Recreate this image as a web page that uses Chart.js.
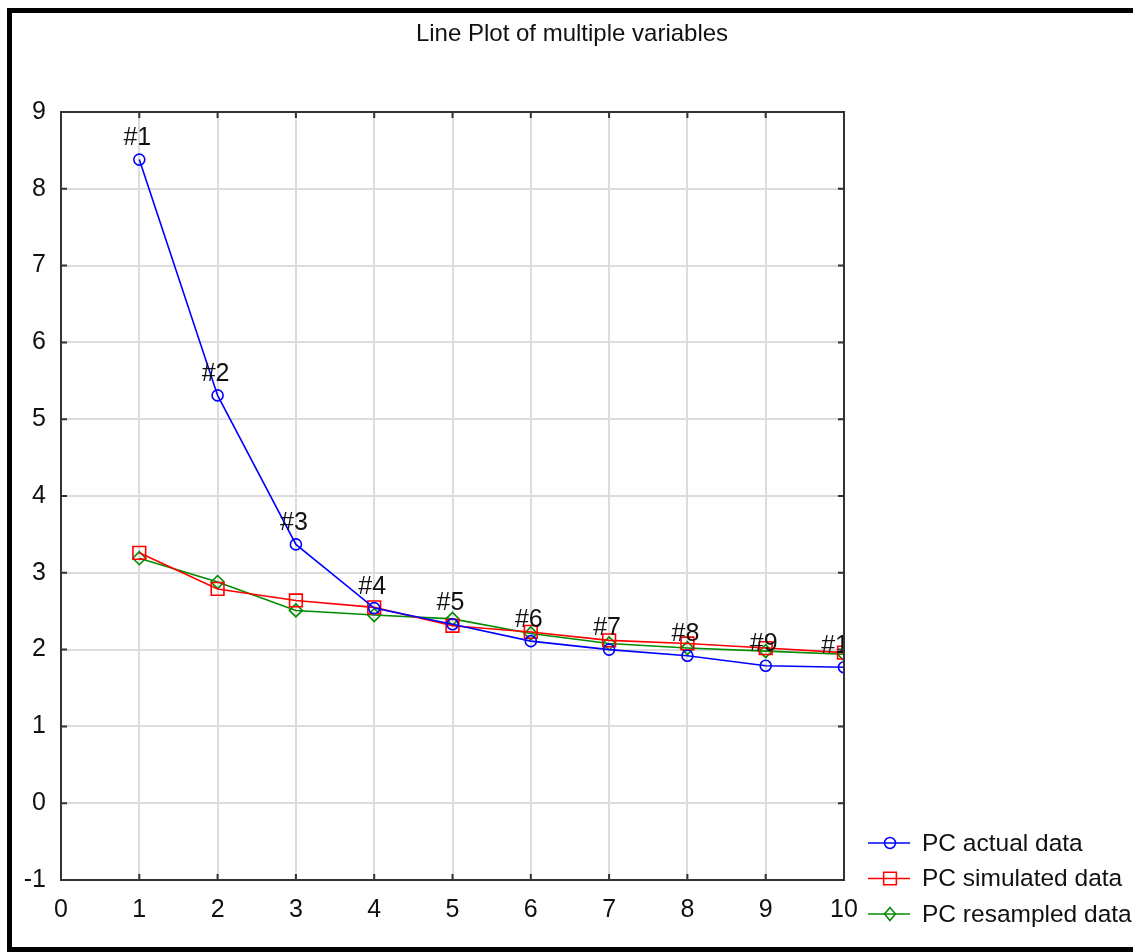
<!DOCTYPE html>
<html>
<head>
<meta charset="utf-8">
<script src="https://cdn.jsdelivr.net/npm/chart.js@4.4.1/dist/chart.umd.min.js"></script>
<style>
  html, body { margin: 0; padding: 0; background: #fff; }
  body { width: 1133px; height: 952px; position: relative; overflow: hidden; }
  #frame {
    position: absolute; left: 7px; top: 8px; width: 1140px; height: 944px;
    box-sizing: border-box; border: 5px solid #000; pointer-events: none;
  }
  #wrap { position: absolute; left: 0; top: 0; width: 1133px; height: 952px; }
</style>
</head>
<body>
<div id="wrap"><canvas id="lineChart"></canvas></div>
<div id="frame"></div>
<script>
const components = [1, 2, 3, 4, 5, 6, 7, 8, 9, 10];
const actualData = [8.38, 5.31, 3.37, 2.54, 2.33, 2.11, 2.0, 1.92, 1.79, 1.77];
const simulatedData = [3.26, 2.79, 2.64, 2.55, 2.31, 2.23, 2.12, 2.08, 2.02, 1.96];
const resampledData = [3.19, 2.88, 2.51, 2.45, 2.4, 2.21, 2.08, 2.02, 1.98, 1.94];
const pointLabels = components.map((c) => '#' + c);
const seriesNames = ['PC actual data', 'PC simulated data', 'PC resampled data'];

const FONT = '"Liberation Sans", Arial, sans-serif';
const TEXT = '#111';

function toPoints(values) {
  return components.map((x, i) => ({ x, y: values[i] }));
}

function drawMarker(ctx, style, x, y, r) {
  ctx.beginPath();
  if (style === 'circle') {
    ctx.arc(x, y, r, 0, Math.PI * 2);
  } else if (style === 'rect') {
    const s = r * Math.SQRT1_2;
    ctx.rect(x - s, y - s, s * 2, s * 2);
  } else {
    ctx.moveTo(x, y - r);
    ctx.lineTo(x + r * 0.85, y);
    ctx.lineTo(x, y + r);
    ctx.lineTo(x - r * 0.85, y);
    ctx.closePath();
  }
  ctx.stroke();
}

// title, point labels, frame ticks and legend
const decorations = {
  id: 'decorations',
  afterDatasetsDraw(chart) {
    const { ctx, chartArea } = chart;
    const meta = chart.getDatasetMeta(0);
    ctx.save();
    ctx.beginPath();
    ctx.rect(chartArea.left, chartArea.top, chartArea.right - chartArea.left, chartArea.bottom - chartArea.top);
    ctx.clip();
    ctx.font = '25px ' + FONT;
    ctx.fillStyle = TEXT;
    ctx.textAlign = 'center';
    ctx.textBaseline = 'bottom';
    meta.data.forEach((pt, i) => {
      ctx.fillText(pointLabels[i], pt.x - 2, pt.y - 9);
    });
    ctx.restore();
  },
  afterDraw(chart) {
    const { ctx, chartArea, scales } = chart;
    const { left, right, top, bottom } = chartArea;
    ctx.save();

    ctx.strokeStyle = '#333';
    ctx.lineWidth = 2;
    ctx.strokeRect(left, top, right - left, bottom - top);

    // inward ticks
    ctx.beginPath();
    components.concat([0]).forEach((v) => {
      const x = scales.x.getPixelForValue(v);
      ctx.moveTo(x, top); ctx.lineTo(x, top + 6);
      ctx.moveTo(x, bottom); ctx.lineTo(x, bottom - 6);
    });
    for (let v = -1; v <= 9; v++) {
      const y = scales.y.getPixelForValue(v);
      ctx.moveTo(left, y); ctx.lineTo(left + 6, y);
      ctx.moveTo(right, y); ctx.lineTo(right - 6, y);
    }
    ctx.stroke();

    // title
    ctx.fillStyle = TEXT;
    ctx.font = '24px ' + FONT;
    ctx.textAlign = 'center';
    ctx.textBaseline = 'alphabetic';
    ctx.fillText('Line Plot of multiple variables', 572, 41);

    // legend
    ctx.font = '24.5px ' + FONT;
    ctx.textAlign = 'left';
    ctx.textBaseline = 'middle';
    chart.data.datasets.forEach((ds, i) => {
      const y = 843 + i * 35.5;
      ctx.strokeStyle = ds.borderColor;
      ctx.lineWidth = 1.5;
      ctx.beginPath();
      ctx.moveTo(868, y); ctx.lineTo(910, y);
      ctx.stroke();
      drawMarker(ctx, ds.pointStyle, 890, y, ds.pointRadius);
      ctx.fillStyle = TEXT;
      ctx.fillText(seriesNames[i], 922, y + 1);
    });
    ctx.restore();
  }
};

function initLineChart() {
  const canvas = document.querySelector('#lineChart');
  const series = [
    { data: actualData, color: '#0000ff', style: 'circle', radius: 5.5 },
    { data: simulatedData, color: '#ff0000', style: 'rect', radius: 9 },
    { data: resampledData, color: '#008c00', style: 'rectRot', radius: 6.5 }
  ];

  return new Chart(canvas, {
    type: 'line',
    data: {
      datasets: series.map((s, i) => ({
        label: seriesNames[i],
        data: toPoints(s.data),
        borderColor: s.color,
        borderWidth: 1.6,
        backgroundColor: 'transparent',
        pointStyle: s.style,
        pointRadius: s.radius,
        pointBorderWidth: 1.6,
        pointBorderColor: s.color,
        pointBackgroundColor: 'transparent',
        tension: 0,
        clip: 0
      }))
    },
    options: {
      responsive: false,
      animation: false,
      layout: { padding: { top: 112, right: 289, left: 0, bottom: 0 } },
      plugins: {
        legend: { display: false },
        title: { display: false },
        tooltip: { enabled: false }
      },
      scales: {
        x: {
          type: 'linear',
          min: 0,
          max: 10,
          afterFit: (scale) => { scale.height = 72; },
          ticks: { stepSize: 1, color: TEXT, padding: 15, font: { family: FONT, size: 25 } },
          grid: { color: '#dcdcdc', lineWidth: 2, drawTicks: false },
          border: { color: '#333', width: 2 }
        },
        y: {
          min: -1,
          max: 9,
          afterFit: (scale) => { scale.width = 61; },
          ticks: { stepSize: 1, color: TEXT, padding: 15, font: { family: FONT, size: 25 } },
          grid: { color: '#dcdcdc', lineWidth: 2, drawTicks: false },
          border: { color: '#333', width: 2 }
        }
      }
    },
    plugins: [decorations]
  });
}

const cv = document.querySelector('#lineChart');
cv.width = 1133;
cv.height = 952;
initLineChart();
</script>
</body>
</html>
